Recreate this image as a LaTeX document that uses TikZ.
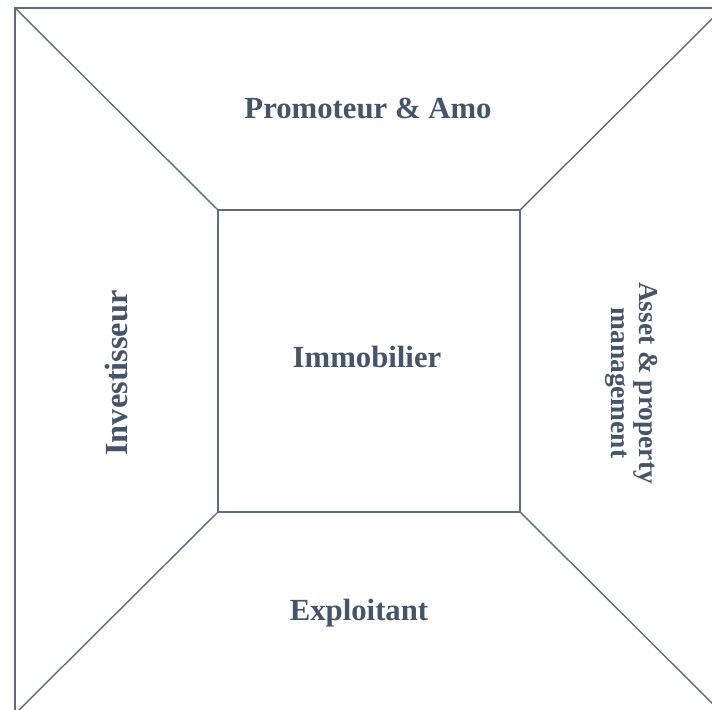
\documentclass[tikz,border=0pt]{standalone}
\usepackage{fontspec}
\setmainfont{Liberation Serif}
\definecolor{lineblue}{HTML}{5E6A82}
\definecolor{textblue}{HTML}{44546A}

\begin{document}
\begin{tikzpicture}
    % one unit = one pixel of the picture, y going down
    [x=0.02cm, y=-0.02cm,
    FrameLine/.style={draw=lineblue, line width=0.8pt},
    RoleText/.style={font=\bfseries\fontsize{17.5}{17.5}\selectfont, text=textblue, align=center}]

    \useasboundingbox (0,0) rectangle (712,709);
    \clip (0,0) rectangle (712,709);

    % outer frame corners
    \coordinate (o_1) at (15,8);
    \coordinate (o_2) at (723,8);
    \coordinate (o_3) at (723,714);
    \coordinate (o_4) at (15,714);
    % inner square corners
    \coordinate (i_1) at (218,210);
    \coordinate (i_2) at (520,210);
    \coordinate (i_3) at (520,512);
    \coordinate (i_4) at (218,512);

    % frames
    \draw[FrameLine] (o_1)--(o_2)--(o_3)--(o_4)--cycle;
    \draw[FrameLine] (i_1)--(i_2)--(i_3)--(i_4)--cycle;

    % diagonals from outer to inner corners
    \foreach \x in {1,...,4}
        \draw[FrameLine] (o_\x)--(i_\x);

    % labels
    \node[RoleText] (promoteur) at (368,108) {Promoteur \& Amo};
    \node[RoleText] (immobilier) at (367,357) {Immobilier};
    \node[RoleText] (exploitant) at (359,613) {Exploitant};
    \node[RoleText, font=\bfseries\fontsize{18.4}{18.4}\selectfont, rotate=90] (investisseur) at (116,373) {Investisseur};
    \node[RoleText, font=\bfseries\fontsize{15.6}{16}\selectfont, rotate=-90] (asset) at (632,383) {Asset \& property\\management};
\end{tikzpicture}
\end{document}
